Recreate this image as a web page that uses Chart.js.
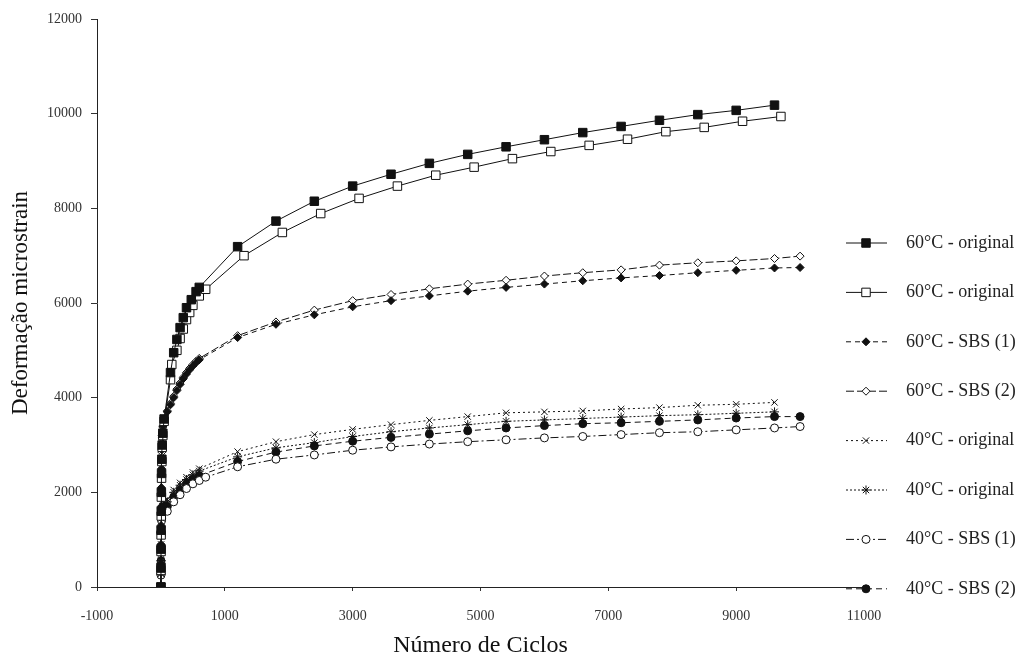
<!DOCTYPE html>
<html>
<head>
<meta charset="utf-8">
<script src="https://cdn.jsdelivr.net/npm/chart.js@4.4.0/dist/chart.umd.min.js"></script>
<style>
  html, body { margin: 0; padding: 0; background: #fff; }
  #wrap { width: 1025px; height: 662px; }
</style>
</head>
<body>
<div id="wrap"><canvas id="grafico" width="1025" height="662"></canvas></div>
<script>
// 60°C - original (cuadrado lleno)
const ciclosA = [0, 1, 2, 3, 5, 7, 10, 15, 20, 30, 50, 150, 200, 250, 300, 350, 400, 475, 550, 600,
  1200, 1800, 2400, 3000, 3600, 4200, 4800, 5400, 6000, 6600, 7200, 7800, 8400, 9000, 9600];
const defA = [0, 400, 800, 1200, 1600, 2000, 2400, 2700, 3000, 3250, 3550, 4530, 4950, 5230, 5480, 5690, 5900, 6070, 6240, 6330,
  7190, 7730, 8150, 8470, 8720, 8950, 9140, 9300, 9450, 9600, 9730, 9860, 9980, 10070, 10180];

// 60°C - original (cuadrado vacio)
const ciclosB = [0, 1, 2, 3, 5, 7, 10, 15, 20, 30, 50, 150, 170, 250, 300, 350, 400, 450, 500, 600, 700,
  1300, 1900, 2500, 3100, 3700, 4300, 4900, 5500, 6100, 6700, 7300, 7900, 8500, 9100, 9700];
const defB = [0, 350, 750, 1100, 1500, 1900, 2300, 2650, 2950, 3200, 3500, 4380, 4700, 5000, 5250, 5450, 5650, 5800, 5950, 6150, 6290,
  7000, 7490, 7890, 8210, 8470, 8700, 8870, 9050, 9200, 9330, 9460, 9620, 9710, 9840, 9940];

// 60°C - SBS (1) y SBS (2)
const ciclosC = [0, 1, 2, 3, 5, 7, 10, 15, 20, 30, 50, 100, 150, 200, 250, 300, 350, 400, 450, 500, 550, 600,
  1200, 1800, 2400, 3000, 3600, 4200, 4800, 5400, 6000, 6600, 7200, 7800, 8400, 9000, 9600, 10000];
const defC = [0, 500, 900, 1300, 1700, 2100, 2500, 2900, 3200, 3400, 3550, 3700, 3850, 4000, 4150, 4280, 4400, 4500, 4590, 4670, 4740, 4800,
  5270, 5550, 5750, 5920, 6050, 6150, 6250, 6330, 6400, 6470, 6530, 6580, 6640, 6690, 6740, 6750];
const defD = [0, 450, 850, 1250, 1650, 2050, 2450, 2850, 3150, 3380, 3550, 3720, 3880, 4030, 4180, 4310, 4430, 4530, 4620, 4700, 4770, 4830,
  5310, 5600, 5850, 6050, 6180, 6300, 6400, 6480, 6570, 6640, 6700, 6800, 6850, 6890, 6940, 6990];

// 40°C - original (x y asterisco)
const ciclosE = [0, 1, 2, 3, 5, 10, 20, 50, 100, 200, 300, 400, 500, 600,
  1200, 1800, 2400, 3000, 3600, 4200, 4800, 5400, 6000, 6600, 7200, 7800, 8400, 9000, 9600];
const defE = [0, 300, 600, 900, 1200, 1500, 1700, 1800, 1850, 2050, 2200, 2320, 2420, 2500,
  2860, 3070, 3220, 3330, 3430, 3520, 3600, 3680, 3700, 3720, 3760, 3790, 3840, 3860, 3900];
const defF = [0, 280, 560, 850, 1150, 1450, 1650, 1770, 1800, 2000, 2150, 2270, 2370, 2450,
  2750, 2940, 3050, 3180, 3280, 3360, 3430, 3500, 3530, 3560, 3590, 3620, 3640, 3670, 3700];

// 40°C - SBS (1) circulo vacio
const ciclosG = [0, 1, 2, 3, 5, 10, 20, 50, 100, 200, 300, 400, 500, 600, 700,
  1200, 1800, 2400, 3000, 3600, 4200, 4800, 5400, 6000, 6600, 7200, 7800, 8400, 9000, 9600, 10000];
const defG = [0, 250, 500, 800, 1100, 1400, 1550, 1600, 1600, 1800, 1950, 2080, 2180, 2250, 2320,
  2540, 2700, 2790, 2890, 2960, 3020, 3070, 3110, 3150, 3180, 3220, 3260, 3280, 3320, 3360, 3390];

// 40°C - SBS (2) circulo lleno
const ciclosH = [0, 1, 2, 3, 5, 10, 20, 50, 100, 200, 300, 400, 500, 600,
  1200, 1800, 2400, 3000, 3600, 4200, 4800, 5400, 6000, 6600, 7200, 7800, 8400, 9000, 9600, 10000];
const defH = [0, 270, 550, 850, 1150, 1450, 1650, 1700, 1700, 1900, 2050, 2180, 2280, 2350,
  2650, 2850, 2980, 3080, 3160, 3230, 3300, 3360, 3410, 3450, 3470, 3500, 3530, 3570, 3600, 3600];

const etiquetas = ["60°C - original", "60°C - original", "60°C - SBS (1)", "60°C - SBS (2)",
  "40°C - original", "40°C - original", "40°C - SBS (1)", "40°C - SBS (2)"];

const ejeX = { min: -1000, max: 11000, paso: 2000 };
const ejeY = { min: 0, max: 12000, paso: 2000 };

function pares(xs, ys) {
  return xs.map((x, i) => ({ x: x, y: ys[i] }));
}

function serie(i, xs, ys, estilo, radio, relleno, trazo) {
  return {
    label: etiquetas[i],
    data: pares(xs, ys),
    borderColor: "#111",
    borderWidth: 1,
    borderDash: trazo,
    pointStyle: estilo,
    pointRadius: radio,
    pointBorderWidth: 1,
    pointBorderColor: "#111",
    pointBackgroundColor: relleno,
    fill: false,
    tension: 0
  };
}

const fuente = '"Liberation Serif", "DejaVu Serif", serif';

// leyenda dibujada a mano: linea + marcador + texto
const leyenda = {
  id: "leyenda",
  afterDraw(chart) {
    const ctx = chart.ctx;
    chart.data.datasets.forEach((ds, i) => {
      const y = 243 + i * 49.4;
      ctx.save();
      ctx.strokeStyle = "#111";
      ctx.lineWidth = 1;
      ctx.setLineDash(ds.borderDash || []);
      ctx.beginPath();
      ctx.moveTo(846, y);
      ctx.lineTo(887, y);
      ctx.stroke();
      ctx.setLineDash([]);
      ctx.fillStyle = ds.pointBackgroundColor;
      Chart.helpers.drawPoint(ctx, {
        pointStyle: ds.pointStyle, radius: ds.pointRadius, rotation: 0, borderWidth: 1
      }, 866, y);
      ctx.fillStyle = "#222";
      ctx.font = "18px " + fuente;
      ctx.textBaseline = "middle";
      ctx.fillText(ds.label, 906, y);
      ctx.restore();
    });
  }
};

function cargaGrafico() {
  const datos = {
    datasets: [
      serie(0, ciclosA, defA, "rect", 6, "#111", []),
      serie(1, ciclosB, defB, "rect", 6, "#fff", []),
      serie(2, ciclosC, defC, "rectRot", 4, "#111", [5, 4]),
      serie(3, ciclosC, defD, "rectRot", 4, "#fff", [8, 3]),
      serie(4, ciclosE, defE, "crossRot", 4.5, "#111", [2, 3]),
      serie(5, ciclosE, defF, "star", 4.5, "#111", [2, 2]),
      serie(6, ciclosG, defG, "circle", 4, "#fff", [8, 3, 2, 3]),
      serie(7, ciclosH, defH, "circle", 4, "#111", [6, 4])
    ]
  };

  const config = {
    type: "line",
    data: datos,
    plugins: [leyenda],
    options: {
      responsive: false,
      animation: false,
      layout: { padding: { left: 0, top: 19, right: 161, bottom: 0 } },
      scales: {
        x: {
          type: "linear",
          min: ejeX.min,
          max: ejeX.max,
          afterFit: (s) => { s.height = 75; },
          grid: { display: true, drawOnChartArea: false, drawTicks: true, tickLength: 4, color: "#333" },
          border: { color: "#222", width: 1 },
          ticks: {
            stepSize: ejeX.paso,
            padding: 17,
            color: "#333",
            font: { family: fuente, size: 14 },
            callback: (v) => String(v)
          },
          title: {
            display: true,
            text: "Número de Ciclos",
            color: "#111",
            font: { family: fuente, size: 24 },
            padding: { top: 0, bottom: 2 }
          }
        },
        y: {
          min: ejeY.min,
          max: ejeY.max,
          afterFit: (s) => { s.width = 97; },
          grid: { display: true, drawOnChartArea: false, drawTicks: true, tickLength: 6, color: "#333" },
          border: { color: "#222", width: 1 },
          ticks: {
            stepSize: ejeY.paso,
            padding: 9,
            color: "#333",
            font: { family: fuente, size: 14 },
            callback: (v) => String(v)
          },
          title: {
            display: true,
            text: "Deformação microstrain",
            color: "#111",
            font: { family: fuente, size: 23 },
            padding: { top: 7, bottom: 0 }
          }
        }
      },
      plugins: {
        legend: { display: false },
        tooltip: { enabled: false }
      }
    }
  };

  const ctx = document.getElementById("grafico").getContext("2d");
  new Chart(ctx, config);
}

window.onload = cargaGrafico;
</script>
</body>
</html>
